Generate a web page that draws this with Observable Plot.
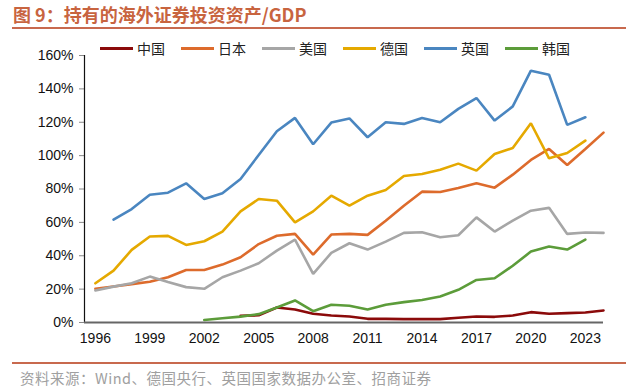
<!DOCTYPE html>
<html>
<head>
<meta charset="utf-8">
<script src="https://cdn.jsdelivr.net/npm/d3@7"></script>
<script src="https://cdn.jsdelivr.net/npm/@observablehq/plot@0.6"></script>
<style>
  html, body { margin: 0; padding: 0; background: #fff; }
  #wrap { position: relative; width: 638px; height: 390px; overflow: hidden; font-family: "Liberation Sans", Arial, "Noto Sans CJK SC", sans-serif; }
  #title { position: absolute; left: 13px; top: 1px; font-family: "Noto Sans CJK SC", "Liberation Sans", sans-serif; font-weight: 700; font-size: 18px; color: #c8643f; letter-spacing: 0px; white-space: nowrap; }
  #rule1 { position: absolute; left: 12px; width: 614px; top: 27px; height: 2px; background: #c8694e; }
  #legend { position: absolute; top: 38px; left: 100px; display: flex; align-items: center; font-family: "Noto Sans CJK SC", sans-serif; font-size: 14px; color: #222; }
  .li { display: flex; align-items: center; margin-right: 16px; }
  .sw { width: 33px; height: 3px; margin-right: 4px; }
  #chart { position: absolute; left: 0; top: 40px; }
  #rule2 { position: absolute; left: 12px; width: 614px; top: 362px; height: 2px; background: #c8694e; }
  #source { position: absolute; left: 20px; top: 367px; font-family: "Noto Sans CJK SC", sans-serif; font-size: 14.5px; letter-spacing: 0.5px; color: #a0a0a0; white-space: nowrap; }
</style>
</head>
<body>
<div id="wrap">
  <div id="title">图 9：持有的海外证券投资资产/GDP</div>
  <div id="rule1"></div>
  <div id="legend"></div>
  <div id="chart"></div>
  <div id="rule2"></div>
  <div id="source">资料来源：Wind、德国央行、英国国家数据办公室、招商证券</div>
</div>
<script>
const years = [1996,1997,1998,1999,2000,2001,2002,2003,2004,2005,2006,2007,2008,2009,2010,2011,2012,2013,2014,2015,2016,2017,2018,2019,2020,2021,2022,2023,2024];
const seriesNames = ["中国","日本","美国","德国","英国","韩国"];
const seriesColors = ["#8b0a0a","#dd6b2c","#a6a6a6","#e5a900","#4a86c0","#5c9c3a"];
const china   = [null,null,null,null,null,null,null,null,4.0,4.3,9.0,7.8,5.2,4.2,3.6,2.2,2.2,2.0,2.0,2.0,2.8,3.6,3.4,4.2,6.2,5.2,5.6,6.0,7.2];
const japan   = [20.2,21.6,23.0,24.4,27.1,31.5,31.5,34.7,39.1,47.0,52.0,53.1,40.7,52.7,53.1,52.5,61.0,70.0,78.4,78.2,80.6,83.4,80.8,88.6,97.4,104.0,94.4,104.0,113.8];
const usa     = [19.2,21.5,23.5,27.5,24.2,21.2,20.2,27.1,31.1,35.5,43.1,49.7,29.1,41.7,47.5,43.7,48.5,53.7,54.1,51.1,52.3,63.0,54.5,61.0,67.0,68.7,53.1,53.9,53.7];
const germany = [23.5,31.1,43.5,51.5,51.9,46.5,48.7,54.5,66.6,74.0,73.0,60.0,66.6,76.0,70.0,76.0,79.4,87.8,89.0,91.6,95.2,91.0,101.0,104.6,119.4,98.4,101.6,109.0,null];
const uk      = [null,61.7,68.0,76.6,77.8,83.4,74.0,77.4,86.0,100.4,114.6,122.6,106.8,119.8,122.3,111.0,120.0,119.0,122.6,120.0,128.0,134.5,121.0,129.5,150.9,148.5,118.4,123.0,null];
const korea   = [null,null,null,null,null,null,1.5,2.5,3.5,5.0,9.0,13.2,6.8,10.6,10.0,7.8,10.6,12.2,13.5,15.6,19.6,25.5,26.5,34.0,42.5,45.5,43.7,49.7,null];
const xTicks = [1996,1999,2002,2005,2008,2011,2014,2017,2020,2023];
const yTicks = [0,20,40,60,80,100,120,140,160];

const seriesValues = [china, japan, usa, germany, uk, korea];
const rows = [];
seriesValues.forEach((vals, i) => {
  vals.forEach((v, j) => { if (v !== null) rows.push({year: years[j], value: v, name: seriesNames[i]}); });
});

// legend
const leg = document.getElementById("legend");
seriesNames.forEach((n, i) => {
  const item = document.createElement("div"); item.className = "li";
  const sw = document.createElement("div"); sw.className = "sw"; sw.style.background = seriesColors[i];
  const t = document.createElement("span"); t.textContent = n;
  item.appendChild(sw); item.appendChild(t); leg.appendChild(item);
});

const x0 = 1995.4;
const chart = Plot.plot({
  width: 638,
  height: 312,
  marginTop: 15,
  marginBottom: 30,
  marginLeft: 84,
  marginRight: 35,
  style: {fontFamily: '"Liberation Sans", Arial, sans-serif', fontSize: "14px", color: "#111", background: "transparent"},
  x: {domain: [x0, 2024], label: null},
  y: {domain: [0, 160], label: null},
  color: {domain: seriesNames, range: seriesColors},
  marks: [
    Plot.axisY({ticks: yTicks, tickFormat: d => d + "%", tickSize: 5, tickPadding: 6, stroke: "#888", fill: "#111", label: null}),
    Plot.axisX({ticks: xTicks, tickFormat: d => String(d), tickSize: 0, tickPadding: 11, fill: "#111", label: null}),
    Plot.ruleX([x0], {y1: 0, y2: 160, stroke: "#111", strokeWidth: 1.2}),
    Plot.line(rows, {x: "year", y: "value", z: "name", stroke: "name", strokeWidth: 2.6, strokeLinejoin: "miter", curve: "linear"}),
    Plot.ruleY([0], {stroke: "#666", strokeWidth: 2})
  ]
});
document.getElementById("chart").appendChild(chart);
</script>
</body>
</html>
